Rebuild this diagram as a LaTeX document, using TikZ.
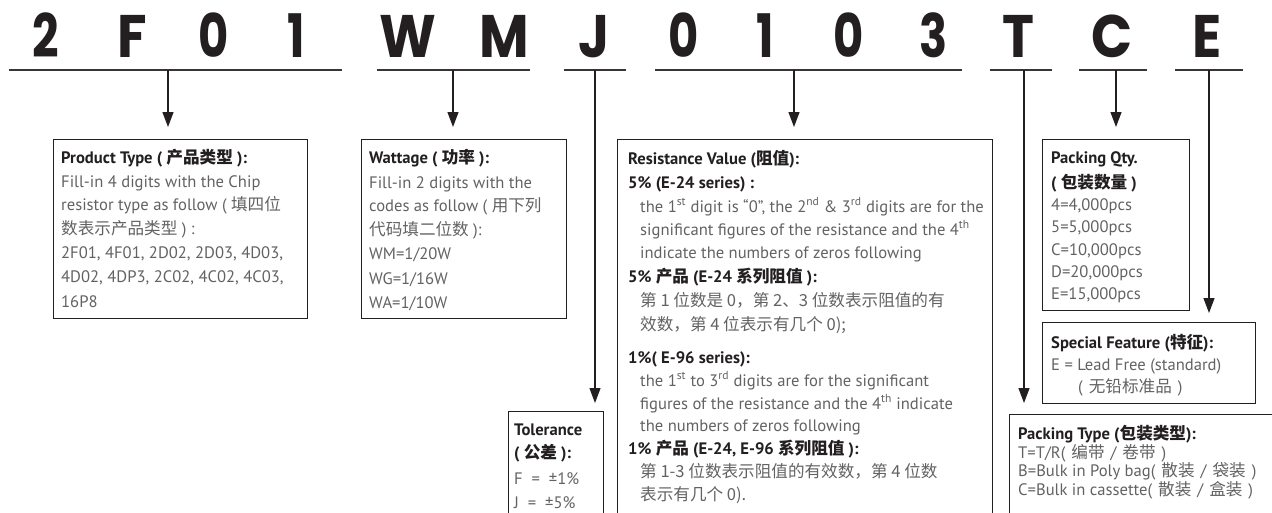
\documentclass[tikz,border=0pt]{standalone}
\usepackage{fontspec}
\setmainfont{PT Sans}
\newfontfamily\cjk{Noto Sans CJK SC}
\newfontfamily\bigfont{Poppins}
\usetikzlibrary{arrows.meta}
\definecolor{ink}{HTML}{231F20}
\definecolor{bodytxt}{HTML}{626264}
\newcommand{\zh}[1]{{\cjk #1}}
\newcommand{\gp}{\hspace{6pt}}
\begin{document}
\begin{tikzpicture}[x=1pt,y=-1pt,
  big/.style={anchor=base, inner sep=0, text=ink, xscale=0.9, font=\bigfont\bfseries\fontsize{60}{60}\selectfont},
  bigd/.style={big, xscale=0.86},
  uline/.style={draw=ink!90, line width=2pt},
  conn/.style={draw=ink, line width=1.2pt},
  arr/.style={conn, -{Triangle[length=15pt,width=11pt]}},
  boxx/.style={draw=ink, line width=1.1pt, inner sep=0, anchor=north west, rectangle},
  ln/.style={anchor=base west, inner sep=0, text=bodytxt, font=\fontsize{16.6}{20}\selectfont},
  hl/.style={ln, text=ink, font=\fontsize{16.6}{20}\selectfont\bfseries}]
\useasboundingbox (0,0) rectangle (1272,512);
\clip (0,0) rectangle (1272,512);

% big code letters
\node[bigd] (c1) at (46,57) {2};
\node[big] (c2) at (132,57) {F};
\node[bigd] (c3) at (214,57) {0};
\node[bigd] (c4) at (296,57) {1};
\node[big] (c5) at (408,57) {W};
\node[big] (c6) at (504,57) {M};
\node[big] (c7) at (594,57) {J};
\node[bigd] (c8) at (684,57) {0};
\node[bigd] (c9) at (765,57) {1};
\node[bigd] (c10) at (849,57) {0};
\node[bigd] (c11) at (934,57) {3};
\node[big] (c12) at (1018,57) {T};
\node[big] (c13) at (1112,57) {C};
\node[big] (c14) at (1207,57) {E};

% underlines
\coordinate (a1) at (9,70);    \coordinate (b1) at (342,70);
\coordinate (a2) at (377,70);  \coordinate (b2) at (530,70);
\coordinate (a3) at (564,70);  \coordinate (b3) at (626,70);
\coordinate (a4) at (655,70);  \coordinate (b4) at (962,70);
\coordinate (a5) at (990,70);  \coordinate (b5) at (1052,70);
\coordinate (a6) at (1079,70); \coordinate (b6) at (1147,70);
\coordinate (a7) at (1175,70); \coordinate (b7) at (1243,70);
\foreach \i in {1,...,7} {\draw[uline] (a\i) -- (b\i);}

% connector start points
\coordinate (vP) at (168,70);
\coordinate (vW) at (453,70);
\coordinate (vJ) at (595,70);
\coordinate (vR) at (794,70);
\coordinate (vT) at (1024,70);
\coordinate (vC) at (1116,70);
\coordinate (vE) at (1209,70);

% boxes
\node[boxx, minimum width=254pt, minimum height=179pt] (prod) at (53,139) {};
\node[boxx, minimum width=205pt, minimum height=179pt] (watt) at (361,139) {};
\node[boxx, minimum width=375pt, minimum height=420pt] (res) at (617,139) {};
\node[boxx, minimum width=95pt, minimum height=140pt] (tol) at (508,411) {};
\node[boxx, minimum width=147pt, minimum height=171pt] (qty) at (1042,139) {};
\node[boxx, minimum width=213pt, minimum height=81pt] (spec) at (1042,322) {};
\node[boxx, minimum width=280pt, minimum height=140pt] (ptype) at (1009,414) {};

% arrows
\draw[arr] (vP) -- ([yshift=12pt]vP |- prod.north);
\draw[arr] (vW) -- ([yshift=12pt]vW |- watt.north);
\draw[arr] (vR) -- ([yshift=12pt]vR |- res.north);
\draw[arr] (vC) -- ([yshift=12pt]vC |- qty.north);
\draw[arr] (vJ) -- ([yshift=8pt]vJ |- tol.north);
\draw[arr] (vT) -- ([yshift=11pt]vT |- ptype.north);
\draw[arr] (vE) -- ([yshift=9pt]vE |- spec.north);

% Product type
\node[hl] (p1) at (61,163) {Product Type ( \zh{产品类型} ):};
\node[ln] (p2) at (61,187) {Fill-in 4 digits with the Chip};
\node[ln] (p3) at (61,210) {resistor type as follow ( \zh{填四位}};
\node[ln] (p4) at (61,234) {\zh{数表示产品类型} ) :};
\node[ln] (p5) at (61,258) {2F01, 4F01, 2D02, 2D03, 4D03,};
\node[ln] (p6) at (61,282) {4D02, 4DP3, 2C02, 4C02, 4C03,};
\node[ln] (p7) at (61,307) {16P8};

% Wattage
\node[hl] (w1) at (369,163) {Wattage ( \zh{功率} ):};
\node[ln] (w2) at (369,188) {Fill-in 2 digits with the};
\node[ln] (w3) at (369,211) {codes as follow ( \zh{用下列}};
\node[ln] (w4) at (369,235) {\zh{代码填二位数} ):};
\node[ln] (w5) at (369,259) {WM=1/20W};
\node[ln] (w6) at (369,284) {WG=1/16W};
\node[ln] (w7) at (369,308) {WA=1/10W};

% Resistance
\node[hl] (r1) at (628,164) {Resistance Value (\zh{阻值}):};
\node[hl] (r2) at (628,188) {5\% (E-24 series) :};
\node[ln] (r3) at (640,212) {the 1\textsuperscript{st} digit is “0”, the 2\textsuperscript{nd} \& 3\textsuperscript{rd} digits are for the};
\node[ln] (r4) at (640,235) {significant figures of the resistance and the 4\textsuperscript{th}};
\node[ln] (r5) at (640,258) {indicate the numbers of zeros following};
\node[hl] (r6) at (628,282) {5\% \zh{产品} (E-24 \zh{系列阻值} ):};
\node[ln] (r7) at (640,306) {\zh{第 1 位数是 0，第 2、3 位数表示阻值的有}};
\node[ln] (r8) at (640,330) {\zh{效数，第 4 位表示有几个 0);}};
\node[hl] (r9) at (628,363) {1\%( E-96 series):};
\node[ln] (r10) at (640,386) {the 1\textsuperscript{st} to 3\textsuperscript{rd} digits are for the significant};
\node[ln] (r11) at (640,409) {figures of the resistance and the 4\textsuperscript{th} indicate};
\node[ln] (r12) at (640,431) {the numbers of zeros following};
\node[hl] (r13) at (628,454) {1\% \zh{产品} (E-24, E-96 \zh{系列阻值} ):};
\node[ln] (r14) at (640,477) {\zh{第 1-3 位数表示阻值的有效数，第 4 位数}};
\node[ln] (r15) at (640,500) {\zh{表示有几个 0).}};

% Tolerance
\node[hl] (t1) at (514,435) {Tolerance};
\node[hl] (t2) at (514,458) {( \zh{公差} ):};
\node[ln] (t3) at (514,484) {F\ \ =\ \ ±1\%};
\node[ln] (t4) at (514,508) {J\ \ =\ \ ±5\%};

% Packing qty
\node[hl] (q1) at (1051,163) {Packing Qty.};
\node[hl] (q2) at (1051,188) {( \zh{包装数量} )};
\node[ln] (q3) at (1051,210) {4=4,000pcs};
\node[ln] (q4) at (1051,232) {5=5,000pcs};
\node[ln] (q5) at (1051,255) {C=10,000pcs};
\node[ln] (q6) at (1051,277) {D=20,000pcs};
\node[ln] (q7) at (1051,299) {E=15,000pcs};

% Special feature
\node[hl] (s1) at (1051,348) {Special Feature (\zh{特征}):};
\node[ln] (s2) at (1051,370) {E = Lead Free (standard)};
\node[ln] (s3) at (1078,392) {(\gp\zh{无铅标准品}\gp)};

% Packing type
\node[hl] (k1) at (1018,439) {Packing Type (\zh{包装类型}):};
\node[ln] (k2) at (1018,458) {T=T/R(\gp\zh{编带}\gp/\gp\zh{卷带}\gp)};
\node[ln] (k3) at (1018,476) {B=Bulk in Poly bag(\gp\zh{散装}\gp/\gp\zh{袋装}\gp)};
\node[ln] (k4) at (1018,495) {C=Bulk in cassette(\gp\zh{散装}\gp/\gp\zh{盒装}\gp)};
\end{tikzpicture}
\end{document}
